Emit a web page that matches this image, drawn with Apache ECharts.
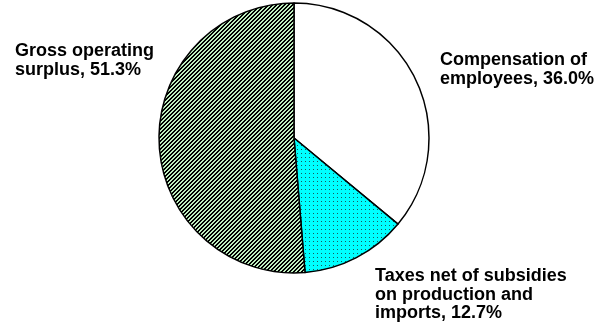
<!DOCTYPE html>
<html><head><meta charset="utf-8">
<script src="https://cdn.jsdelivr.net/npm/echarts@6/dist/echarts.min.js"></script>
<style>html,body{margin:0;padding:0;background:#fff;}#c{width:602px;height:326px;}</style>
</head><body><div id="c"></div>
<script>
var categories = ['Compensation of\nemployees', 'Taxes net of subsidies\non production and\nimports', 'Gross operating\nsurplus'];
var values = [36.0, 12.7, 51.3];

function hatchPattern() {
  var c = document.createElement('canvas'); c.width = 4; c.height = 4;
  var g = c.getContext('2d');
  for (var x = 0; x < 4; x++) for (var y = 0; y < 4; y++) {
    g.fillStyle = ((x + y) % 4) < 2 ? '#000000' : '#bfeebf';
    g.fillRect(x, y, 1, 1);
  }
  return c;
}
function dotPattern() {
  var c = document.createElement('canvas'); c.width = 4; c.height = 4;
  var g = c.getContext('2d');
  g.fillStyle = '#00ffff'; g.fillRect(0, 0, 4, 4);
  g.fillStyle = '#1a5a5a'; g.fillRect(1, 1, 1, 1);
  return c;
}
var fills = ['#ffffff', {image: dotPattern(), repeat: 'repeat'}, {image: hatchPattern(), repeat: 'repeat'}];
var labelPos = [
  {x: 440, y: 51},
  {x: 375, y: 267},
  {x: 15, y: 42}
];

var chart = echarts.init(document.getElementById('c'), null, {renderer: 'canvas'});
chart.setOption({
  backgroundColor: '#ffffff',
  animation: false,
  series: [{
    type: 'pie',
    center: [294, 138],
    radius: 135,
    startAngle: 90,
    clockwise: true,
    silent: true,
    data: categories.map(function (n, i) {
      return {name: n, value: values[i], itemStyle: {color: fills[i]}};
    }),
    itemStyle: {borderColor: '#000', borderWidth: 1.5},
    labelLine: {show: false},
    label: {
      show: true,
      overflow: 'none',
      formatter: function (p) { return p.name + ', ' + p.value.toFixed(1) + '%'; },
      fontFamily: 'Liberation Sans, Arial, sans-serif',
      fontWeight: 'bold',
      fontSize: 18,
      lineHeight: 18.5,
      color: '#000'
    },
    labelLayout: function (p) {
      var L = labelPos[p.dataIndex];
      return {x: L.x, y: L.y, align: 'left', verticalAlign: 'top', hideOverlap: false, width: 300};
    }
  }]
});
</script></body></html>
